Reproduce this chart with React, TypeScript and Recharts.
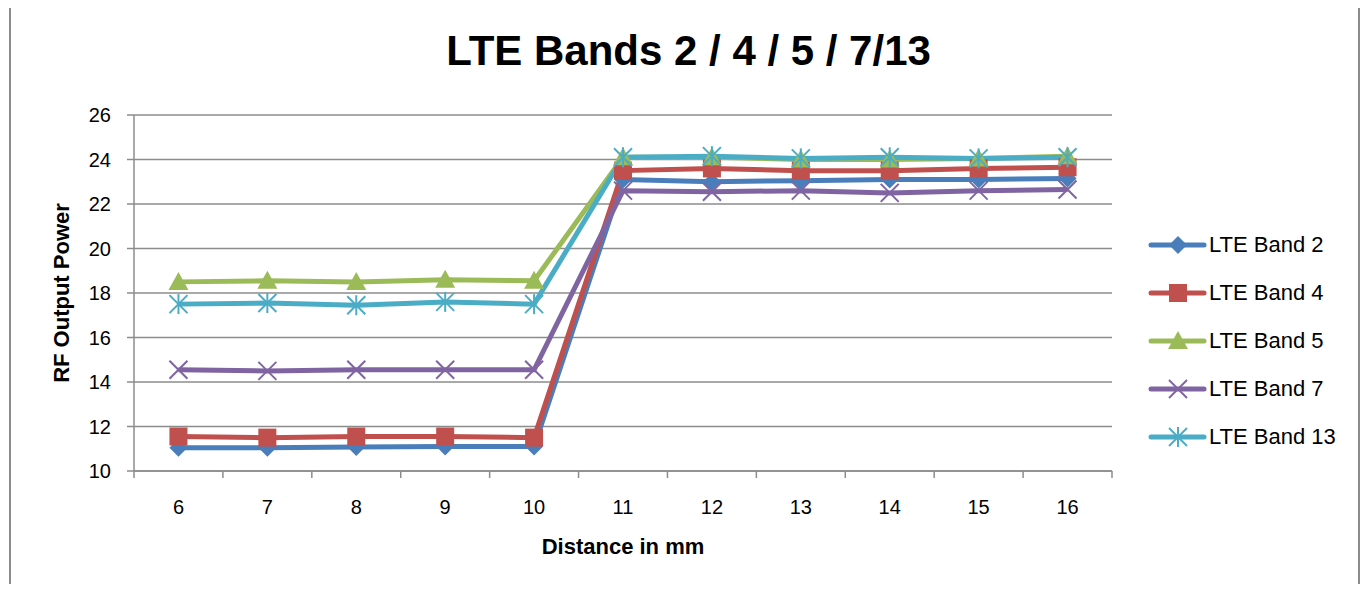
import React from "react";
import { LineChart, Line, XAxis, YAxis, CartesianGrid } from "recharts";

const distances = [6, 7, 8, 9, 10, 11, 12, 13, 14, 15, 16];
const band2 = [11.05, 11.05, 11.08, 11.1, 11.1, 23.1, 23.0, 23.05, 23.1, 23.1, 23.15];
const band4 = [11.55, 11.5, 11.55, 11.55, 11.5, 23.5, 23.6, 23.5, 23.5, 23.6, 23.65];
const band5 = [18.5, 18.55, 18.5, 18.6, 18.55, 24.1, 24.1, 24.0, 24.0, 24.05, 24.15];
const band7 = [14.55, 14.5, 14.55, 14.55, 14.55, 22.6, 22.55, 22.6, 22.5, 22.6, 22.65];
const band13 = [17.5, 17.55, 17.45, 17.6, 17.5, 24.1, 24.15, 24.05, 24.1, 24.05, 24.1];
const yTicks = [10, 12, 14, 16, 18, 20, 22, 24, 26];

const data = distances.map((d, i) => ({
  name: String(d),
  b2: band2[i],
  b4: band4[i],
  b5: band5[i],
  b7: band7[i],
  b13: band13[i],
}));

const W = 1371;
const H = 592;
const M = { top: 115, right: 259, left: 0, bottom: 0 };
const Y_AXIS_W = 134;
const X_AXIS_H = 121;
const PLOT_W = W - M.left - M.right - Y_AXIS_W;
const BAND = PLOT_W / distances.length;
const X_TICK_SIZE = 8;
const X_TICK_MARGIN = 21;
const FONT = "'Liberation Sans', Arial, sans-serif";
const GRID = "#8c8c8c";

type Shape = "diamond" | "square" | "triangle" | "x" | "star";

const series: { key: string; name: string; color: string; shape: Shape }[] = [
  { key: "b2", name: "LTE Band 2", color: "#4A7EBB", shape: "diamond" },
  { key: "b4", name: "LTE Band 4", color: "#C0504D", shape: "square" },
  { key: "b5", name: "LTE Band 5", color: "#9BBB59", shape: "triangle" },
  { key: "b7", name: "LTE Band 7", color: "#8064A2", shape: "x" },
  { key: "b13", name: "LTE Band 13", color: "#4BACC6", shape: "star" },
];

function Marker({ cx, cy, shape, color }: { cx: number; cy: number; shape: Shape; color: string }) {
  if (cx == null || cy == null) return null;
  const s = 9;
  switch (shape) {
    case "diamond":
      return <polygon points={`${cx},${cy - s} ${cx + s},${cy} ${cx},${cy + s} ${cx - s},${cy}`} fill={color} />;
    case "square":
      return <rect x={cx - s} y={cy - s} width={s * 2} height={s * 2} fill={color} />;
    case "triangle":
      return <polygon points={`${cx},${cy - s - 1} ${cx + s + 1},${cy + s - 1} ${cx - s - 1},${cy + s - 1}`} fill={color} />;
    case "x":
      return (
        <g stroke={color} strokeWidth={2}>
          <line x1={cx - 9} y1={cy - 9} x2={cx + 9} y2={cy + 9} />
          <line x1={cx - 9} y1={cy + 9} x2={cx + 9} y2={cy - 9} />
        </g>
      );
    case "star":
      return (
        <g stroke={color} strokeWidth={2}>
          <line x1={cx - 9} y1={cy - 9} x2={cx + 9} y2={cy + 9} />
          <line x1={cx - 9} y1={cy + 9} x2={cx + 9} y2={cy - 9} />
          <line x1={cx} y1={cy - 10} x2={cx} y2={cy + 10} />
        </g>
      );
  }
  return null;
}

function XTick(props: any) {
  const { x, y, payload, index } = props;
  const axisY = y - X_TICK_SIZE - X_TICK_MARGIN;
  const last = index === distances.length - 1;
  return (
    <g>
      <line x1={x - BAND / 2} y1={axisY} x2={x - BAND / 2} y2={axisY + 7} stroke={GRID} strokeWidth={1.5} />
      {last && (
        <line x1={x + BAND / 2} y1={axisY} x2={x + BAND / 2} y2={axisY + 7} stroke={GRID} strokeWidth={1.5} />
      )}
      <text x={x} y={y} dy="0.71em" textAnchor="middle" fontSize={20} fill="#000" fontFamily={FONT}>
        {payload.value}
      </text>
    </g>
  );
}

function LegendBox() {
  return (
    <div
      style={{
        position: "absolute",
        left: 1146,
        top: 221,
        fontFamily: FONT,
        fontSize: 22,
        color: "#000",
      }}
    >
      {series.map((s) => (
        <div key={s.key} style={{ display: "flex", alignItems: "center", height: 48 }}>
          <svg width={62} height={24} style={{ marginRight: 1 }}>
            <line x1={5} y1={12} x2={58} y2={12} stroke={s.color} strokeWidth={5} strokeLinecap="round" />
            <Marker cx={32} cy={12} shape={s.shape} color={s.color} />
          </svg>
          <span>{s.name}</span>
        </div>
      ))}
    </div>
  );
}

export default function App() {
  return (
    <div style={{ position: "relative", width: W, height: H, margin: -8, overflow: "hidden", background: "#fff" }}>
      <div
        style={{
          position: "absolute",
          left: 9,
          top: 3,
          width: W - 20,
          height: H + 10,
          border: "2px solid #8c8c8c",
          boxSizing: "border-box",
        }}
      />
      <div
        style={{
          position: "absolute",
          left: 0,
          width: W,
          top: 27,
          textAlign: "center",
          paddingLeft: 6,
          boxSizing: "border-box",
          fontFamily: FONT,
          fontWeight: "bold",
          fontSize: 42,
          color: "#000",
        }}
      >
        LTE Bands 2 / 4 / 5 / 7/13
      </div>
      <LineChart width={W} height={H} data={data} margin={M} style={{ position: "absolute", left: 0, top: 0 }}>
        <CartesianGrid vertical={false} stroke={GRID} strokeWidth={1.5} />
        <XAxis
          dataKey="name"
          height={X_AXIS_H}
          stroke={GRID}
          strokeWidth={1.5}
          padding={{ left: BAND / 2, right: BAND / 2 }}
          tickLine={false}
          tickSize={X_TICK_SIZE}
          tickMargin={X_TICK_MARGIN}
          tick={<XTick />}
          interval={0}
          label={{
            value: "Distance in mm",
            position: "insideTop",
            dy: 62,
            style: { fontFamily: FONT, fontWeight: "bold", fontSize: 22, fill: "#000" },
          }}
        />
        <YAxis
          width={Y_AXIS_W}
          domain={[10, 26]}
          ticks={yTicks}
          interval={0}
          stroke={GRID}
          strokeWidth={1.5}
          tickSize={7}
          tickMargin={16}
          tick={{ fontSize: 20, fill: "#000", fontFamily: FONT }}
          tickLine={{ stroke: GRID, strokeWidth: 1.5 }}
          label={{
            value: "RF Output Power",
            angle: -90,
            position: "insideLeft",
            dx: 56,
            style: { fontFamily: FONT, fontWeight: "bold", fontSize: 22, fill: "#000", textAnchor: "middle" },
          }}
        />
        {series.map((s) => (
          <Line
            key={s.key}
            dataKey={s.key}
            name={s.name}
            stroke={s.color}
            strokeWidth={5}
            isAnimationActive={false}
            dot={(p: any) => <Marker key={`${s.key}-${p.index}`} cx={p.cx} cy={p.cy} shape={s.shape} color={s.color} />}
            activeDot={false}
          />
        ))}
      </LineChart>
      <LegendBox />
    </div>
  );
}
